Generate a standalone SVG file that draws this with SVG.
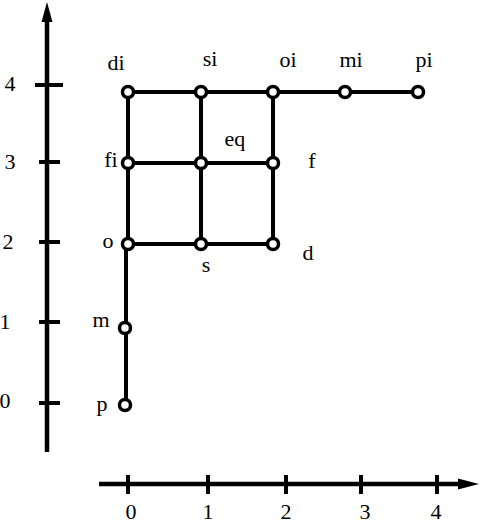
<svg xmlns="http://www.w3.org/2000/svg" width="480" height="524" viewBox="0 0 480 524">
<style>
.ax{stroke:#000;stroke-width:4.5;fill:none}
.tk{stroke:#000;stroke-width:4;fill:none}
.ed{stroke:#000;stroke-width:4;fill:none}
.nd{fill:#fff;stroke:#000;stroke-width:3.5}
text{font-family:"Liberation Serif","Times New Roman",serif;font-size:22px;fill:#000}
.c{text-anchor:middle}
</style>
<rect width="480" height="524" fill="#fff"/>
<g id="axes">
<line class="ax" x1="47" y1="452" x2="47" y2="20"/>
<polygon points="47,2 41.5,22 52.5,22" fill="#000"/>
<line class="tk" x1="35" y1="85" x2="63" y2="85"/>
<line class="tk" x1="39" y1="162" x2="60" y2="162"/>
<line class="tk" x1="39" y1="242" x2="60" y2="242"/>
<line class="tk" x1="39" y1="322" x2="60" y2="322"/>
<line class="tk" x1="39" y1="403" x2="60" y2="403"/>
<text class="c" x="10" y="91">4</text>
<text class="c" x="10" y="169">3</text>
<text class="c" x="8" y="249">2</text>
<text class="c" x="5" y="329">1</text>
<text class="c" x="5" y="408">0</text>
<line class="ax" x1="99" y1="484" x2="460" y2="484"/>
<polygon points="479,484 458,478.5 458,489.5" fill="#000"/>
<line class="tk" x1="128" y1="475" x2="128" y2="494"/>
<line class="tk" x1="208" y1="475" x2="208" y2="494"/>
<line class="tk" x1="286" y1="475" x2="286" y2="494"/>
<line class="tk" x1="361" y1="475" x2="361" y2="494"/>
<line class="tk" x1="437" y1="475" x2="437" y2="494"/>
<text class="c" x="131" y="519">0</text>
<text class="c" x="208" y="519">1</text>
<text class="c" x="286" y="519">2</text>
<text class="c" x="365" y="519">3</text>
<text class="c" x="436" y="519">4</text>
</g>
<g id="connectors">
<line class="ed" x1="128" y1="92" x2="418" y2="92"/>
<line class="ed" x1="128" y1="163" x2="273" y2="163"/>
<line class="ed" x1="128" y1="244" x2="273" y2="244"/>
<line class="ed" x1="128" y1="92" x2="128" y2="244"/>
<line class="ed" x1="201" y1="92" x2="201" y2="244"/>
<line class="ed" x1="273" y1="92" x2="273" y2="244"/>
<line class="ed" x1="126" y1="244" x2="126" y2="405"/>
</g>
<g id="di"><circle class="nd" cx="128" cy="92" r="5.5"/><text class="c" x="116" y="70">di</text></g>
<g id="si"><circle class="nd" cx="201" cy="92" r="5.5"/><text class="c" x="210" y="66">si</text></g>
<g id="oi"><circle class="nd" cx="273" cy="92" r="5.5"/><text class="c" x="288" y="67">oi</text></g>
<g id="mi"><circle class="nd" cx="345" cy="92" r="5.5"/><text class="c" x="351" y="67">mi</text></g>
<g id="pi"><circle class="nd" cx="418" cy="92" r="5.5"/><text class="c" x="424" y="67">pi</text></g>
<g id="fi"><circle class="nd" cx="128" cy="163" r="5.5"/><text class="c" x="111" y="167">fi</text></g>
<g id="eq"><circle class="nd" cx="201" cy="163" r="5.5"/><text class="c" x="235" y="146">eq</text></g>
<g id="f"><circle class="nd" cx="273" cy="163" r="5.5"/><text class="c" x="312" y="168">f</text></g>
<g id="o"><circle class="nd" cx="128" cy="244" r="5.5"/><text class="c" x="108" y="248">o</text></g>
<g id="s"><circle class="nd" cx="201" cy="244" r="5.5"/><text class="c" x="206" y="272">s</text></g>
<g id="d"><circle class="nd" cx="273" cy="244" r="5.5"/><text class="c" x="308" y="260">d</text></g>
<g id="m"><circle class="nd" cx="125" cy="328" r="5.5"/><text class="c" x="101" y="327">m</text></g>
<g id="p"><circle class="nd" cx="125" cy="405" r="5.5"/><text class="c" x="102" y="411">p</text></g>
</svg>
